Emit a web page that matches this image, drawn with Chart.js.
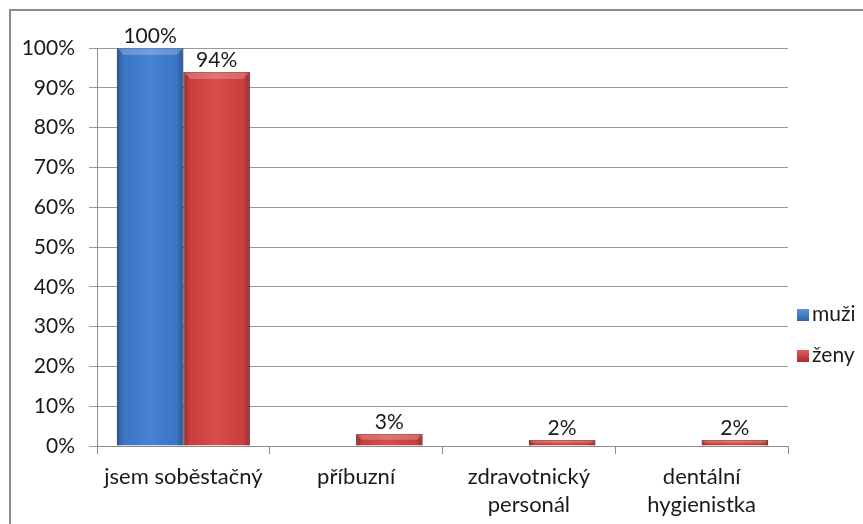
<!DOCTYPE html>
<html>
<head>
<meta charset="utf-8">
<script src="https://cdn.jsdelivr.net/npm/chart.js@4.4.0/dist/chart.umd.min.js"></script>
<style>
  html, body { margin: 0; padding: 0; background: #fff; }
  #wrap { position: relative; width: 863px; height: 524px; overflow: hidden; }
  #frame { position: absolute; left: 9px; top: 9px; width: 900px; height: 600px; border: 2px solid #8c8c8c; box-sizing: border-box; }
  canvas { position: absolute; left: 0; top: 0; }
  .leg { position: absolute; left: 797px; font: 21px Lato, sans-serif; color: #1a1a1a; line-height: 22px; white-space: nowrap; }
  .leg span { display: inline-block; width: 12px; height: 12px; margin-right: 3px; vertical-align: 0px; }
</style>
</head>
<body>
<div id="wrap">
  <div id="frame"></div>
  <canvas id="myChart" width="863" height="524"></canvas>
  <div class="leg" style="top:302px"><span style="background:linear-gradient(#5b93dc,#2f63a8)"></span>muži</div>
  <div class="leg" style="top:343px"><span style="background:linear-gradient(#e06060,#a82c2c)"></span>ženy</div>
</div>
<script>
const categories = [['jsem soběstačný'], ['příbuzní'], ['zdravotnický', 'personál'], ['dentální', 'hygienistka']];
const muzi = [100, 0, 0, 0];
const zeny = [94, 3, 1.5, 1.5];
const muziLabels = ['100%', '', '', ''];
const zenyLabels = ['94%', '3%', '2%', '2%'];

const fontFamily = 'Lato, sans-serif';

// bevel overlay + value labels
const barLook = {
  id: 'barLook',
  afterDatasetsDraw(chart) {
    const ctx = chart.ctx;
    const lbls = [muziLabels, zenyLabels];
    chart.data.datasets.forEach((ds, di) => {
      const meta = chart.getDatasetMeta(di);
      meta.data.forEach((bar, i) => {
        const left = bar.x - bar.width / 2;
        const w = bar.width;
        const h = bar.base - bar.y;
        if (h > 0.5) {
          ctx.save();
          const g = ctx.createLinearGradient(left, 0, left + w, 0);
          g.addColorStop(0, 'rgba(0,0,0,0.30)');
          g.addColorStop(0.1, 'rgba(0,0,0,0.05)');
          g.addColorStop(0.5, 'rgba(255,255,255,0.06)');
          g.addColorStop(0.9, 'rgba(0,0,0,0.05)');
          g.addColorStop(1, 'rgba(0,0,0,0.30)');
          ctx.fillStyle = g;
          ctx.fillRect(left, bar.y, w, h);
          const bev = Math.min(7, h / 2);
          ctx.fillStyle = 'rgba(255,255,255,0.22)';
          ctx.beginPath();
          ctx.moveTo(left, bar.y);
          ctx.lineTo(left + w, bar.y);
          ctx.lineTo(left + w - bev, bar.y + bev);
          ctx.lineTo(left + bev, bar.y + bev);
          ctx.closePath();
          ctx.fill();
          ctx.restore();
        }
        const t = lbls[di][i];
        if (t) {
          ctx.save();
          ctx.font = '21px ' + fontFamily;
          ctx.fillStyle = '#1a1a1a';
          ctx.textAlign = 'center';
          ctx.textBaseline = 'alphabetic';
          ctx.fillText(t, bar.x, bar.y - 5);
          ctx.restore();
        }
      });
    });
  }
};

const data = {
  labels: categories,
  datasets: [{
    label: 'muži',
    data: muzi,
    backgroundColor: '#3d7bd0',
    borderColor: '#2d5f9e',
    borderWidth: 1
  }, {
    label: 'ženy',
    data: zeny,
    backgroundColor: '#d64141',
    borderColor: '#a02e2e',
    borderWidth: 1
  }]
};

const config = {
  type: 'bar',
  data,
  options: {
    responsive: false,
    animation: false,
    categoryPercentage: 0.77,
    barPercentage: 1.0,
    layout: { padding: { top: 48, right: 75, bottom: 0, left: 0 } },
    plugins: {
      legend: { display: false },
      tooltip: { enabled: false }
    },
    scales: {
      x: {
        offset: true,
        grid: { offset: true, drawOnChartArea: false, drawTicks: true, tickLength: 8, color: '#8c8c8c' },
        border: { color: '#8c8c8c', width: 1 },
        ticks: { color: '#1a1a1a', font: { family: fontFamily, size: 22, lineHeight: 1.27 }, padding: 9, maxRotation: 0 },
        afterFit(scale) { scale.height = 78; }
      },
      y: {
        min: 0,
        max: 100,
        grid: { color: '#9a9a9a', tickLength: 8 },
        border: { color: '#8c8c8c', width: 1 },
        ticks: { stepSize: 10, color: '#1a1a1a', font: { family: fontFamily, size: 21 }, padding: 14,
          callback: v => v + '%' },
        afterFit(scale) { scale.width = 97; }
      }
    }
  },
  plugins: [barLook]
};

const myChart = new Chart(document.getElementById('myChart'), config);
</script>
</body>
</html>
